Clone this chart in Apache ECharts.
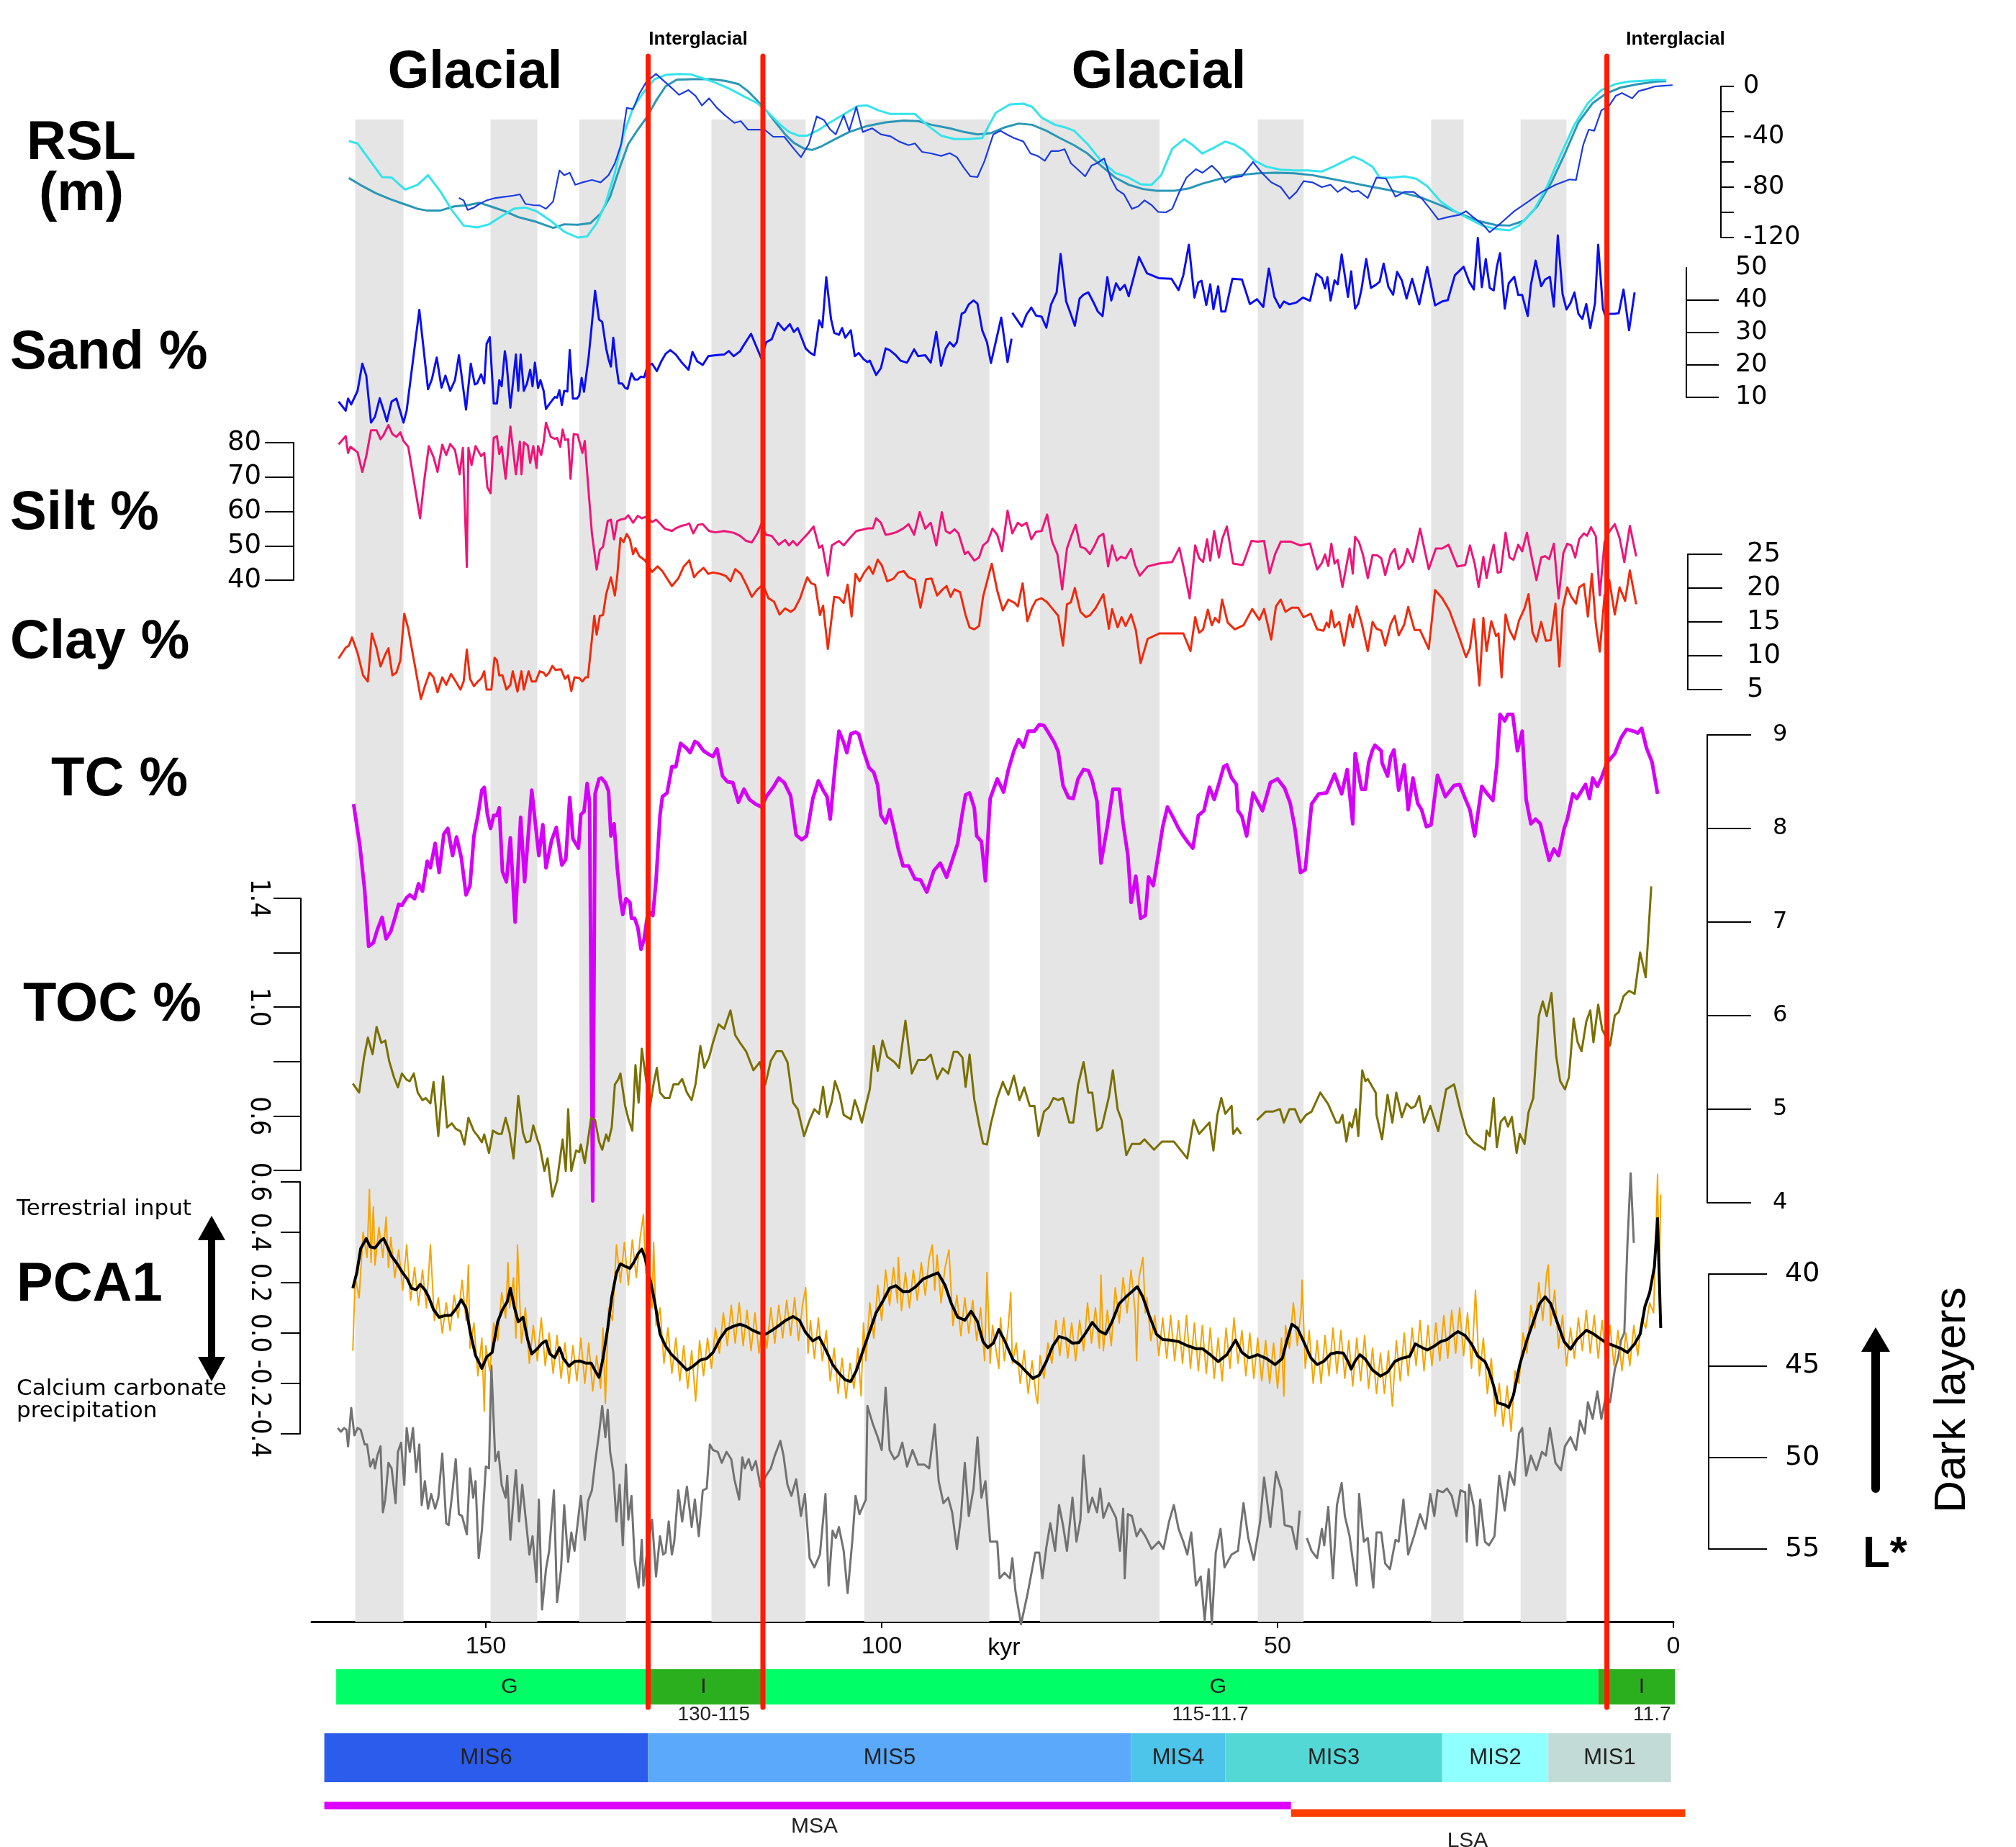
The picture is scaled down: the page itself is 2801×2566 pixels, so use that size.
<!DOCTYPE html>
<html>
<head>
<meta charset="utf-8">
<script src="https://cdn.jsdelivr.net/npm/echarts@6/dist/echarts.min.js"></script>
<style>
  html, body { margin: 0; padding: 0; background: #fff; }
  #chart { width: 2801px; height: 2566px; }
</style>
</head>
<body>
<div id="chart"></div>
<script>
// ---- data (age in kyr, value) ----
var rslCyan = [[167.3,-43.4],[166.2,-45.3],[163.1,-72.0],[161.9,-72.4],[160.2,-81.9],[158.6,-78.1],[157.3,-70.5],[155.7,-83.8],[154.2,-99.1],[152.8,-110.5],[151.1,-112.0],[149.6,-109.5],[148.2,-103.8],[146.5,-97.2],[145.0,-96.2],[143.6,-99.1],[141.8,-106.7],[140.1,-115.3],[138.4,-120.0],[137.2,-119.1],[136.0,-108.6],[134.9,-93.3],[133.7,-68.6],[132.6,-38.1],[131.4,-17.1],[130.2,-5.7],[128.7,5.7],[127.3,9.1],[125.6,9.9],[124.1,9.5],[122.7,6.7],[121.0,2.9],[119.2,-1.9],[117.5,-7.6],[115.7,-13.3],[114.3,-21.0],[112.8,-30.5],[111.7,-36.2],[110.5,-39.1],[109.4,-39.1],[107.9,-34.3],[106.5,-28.6],[104.7,-21.9],[103.0,-15.6],[101.8,-15.2],[100.4,-19.1],[98.9,-21.9],[97.2,-21.9],[95.8,-21.9],[94.3,-30.5],[92.5,-39.1],[90.8,-41.9],[89.1,-41.9],[87.3,-41.0],[85.6,-21.0],[83.8,-14.3],[82.1,-13.7],[81.0,-16.2],[79.8,-24.8],[78.1,-30.5],[76.9,-32.4],[75.7,-35.2],[74.0,-45.7],[72.3,-59.1],[70.5,-68.6],[68.8,-72.4],[67.3,-77.7],[65.9,-78.1],[64.7,-70.5],[63.3,-49.5],[61.8,-41.9],[60.7,-46.7],[59.5,-53.3],[58.0,-48.6],[56.6,-43.8],[55.4,-46.3],[54.3,-50.5],[52.9,-59.1],[51.4,-63.8],[49.6,-66.1],[47.9,-66.7],[46.2,-66.7],[44.4,-67.6],[42.7,-62.9],[41.5,-59.1],[40.4,-55.8],[39.2,-59.1],[38.0,-63.8],[37.1,-72.4],[35.5,-72.4],[34.0,-71.4],[32.5,-73.3],[31.1,-79.1],[29.4,-91.4],[27.6,-99.1],[25.9,-104.8],[24.1,-110.5],[22.4,-113.3],[20.7,-114.3],[19.5,-110.5],[17.7,-99.1],[16.0,-80.0],[14.3,-55.2],[12.5,-30.5],[10.8,-13.3],[9.1,-2.9],[7.3,1.9],[5.6,3.8],[3.8,4.4],[2.1,5.1],[0.9,4.8]];

var rslTeal = [[167.3,-72.8],[165.6,-79.1],[163.9,-84.8],[162.1,-89.5],[160.4,-93.3],[158.6,-97.2],[157.5,-98.5],[155.7,-98.5],[154.0,-95.3],[152.3,-94.3],[150.8,-92.4],[149.4,-95.3],[147.6,-99.1],[145.9,-103.8],[143.6,-107.6],[141.5,-112.4],[140.1,-109.5],[138.4,-109.9],[136.8,-108.6],[135.5,-101.0],[134.3,-87.6],[133.1,-64.8],[132.0,-45.7],[130.8,-34.3],[129.7,-24.8],[128.5,-11.4],[127.3,0],[125.9,5.3],[123.9,5.7],[121.5,5.7],[119.8,4.4],[118.1,1.9],[116.9,-3.8],[115.7,-11.4],[114.6,-19.1],[113.4,-28.6],[112.2,-38.1],[111.1,-44.8],[109.9,-49.1],[108.8,-50.5],[107.6,-47.6],[105.9,-41.9],[104.1,-36.2],[101.8,-31.4],[99.5,-28.6],[97.2,-27.2],[95.4,-27.6],[93.7,-30.5],[91.4,-33.3],[89.6,-36.2],[87.9,-38.1],[86.2,-37.1],[84.4,-32.4],[82.7,-29.5],[81.0,-30.5],[79.2,-35.2],[77.5,-41.0],[75.7,-46.7],[74.0,-53.3],[72.3,-62.9],[70.5,-72.4],[68.8,-78.1],[67.0,-81.5],[65.3,-82.9],[63.0,-82.9],[61.2,-81.0],[59.5,-77.2],[57.2,-73.3],[54.9,-70.5],[52.5,-69.0],[50.2,-68.6],[47.9,-69.0],[45.6,-70.5],[43.3,-73.3],[40.9,-76.2],[38.6,-79.1],[36.3,-81.9],[34.0,-84.8],[31.7,-88.6],[29.4,-94.3],[27.0,-101.0],[24.7,-106.7],[22.4,-110.1],[20.7,-110.5],[18.9,-106.7],[17.2,-95.3],[15.4,-76.2],[13.7,-53.3],[12.0,-28.6],[10.2,-13.3],[8.5,-5.7],[6.7,-1.0],[4.4,1.9],[2.1,3.8],[0.9,4.2]];

var rslBlue = [[153.4,-88.6],[152.8,-90.5],[152.3,-98.1],[151.5,-96.2],[150.8,-93.3],[149.9,-90.5],[148.8,-88.6],[147.6,-87.6],[146.5,-86.7],[145.7,-85.7],[145.0,-93.3],[144.0,-94.3],[143.2,-94.5],[142.4,-97.2],[141.5,-91.4],[140.7,-66.7],[140.1,-70.5],[139.4,-68.6],[138.7,-78.1],[137.8,-76.2],[136.6,-74.3],[135.5,-76.2],[134.5,-70.5],[133.7,-61.0],[132.9,-45.7],[132.2,-17.1],[131.4,-18.1],[130.6,-5.7],[129.7,3.8],[128.5,9.9],[127.6,4.8],[126.4,-1.9],[125.6,-6.7],[124.4,-2.9],[123.5,-7.6],[122.7,-15.2],[121.8,-9.5],[120.8,-17.1],[119.8,-22.9],[118.6,-29.0],[117.8,-27.6],[116.9,-34.3],[116.0,-34.3],[114.8,-34.3],[113.7,-40.0],[112.3,-40.0],[111.1,-49.5],[110.2,-56.2],[109.2,-45.7],[108.2,-23.8],[107.3,-26.7],[106.5,-34.3],[105.8,-38.1],[104.8,-22.9],[104.1,-35.2],[103.2,-16.2],[102.4,-36.2],[101.2,-33.3],[100.1,-38.1],[98.9,-39.6],[97.8,-43.8],[96.6,-46.7],[95.8,-45.3],[94.9,-52.0],[93.7,-53.3],[92.5,-55.2],[91.4,-53.0],[90.5,-56.2],[89.6,-64.8],[88.8,-71.4],[87.9,-72.0],[87.0,-59.1],[85.9,-38.1],[85.0,-35.2],[84.2,-38.1],[83.3,-41.0],[82.1,-43.8],[81.2,-53.3],[80.3,-55.2],[79.4,-59.1],[78.6,-51.4],[77.7,-51.4],[76.9,-49.9],[76.1,-61.0],[75.1,-66.7],[74.3,-71.4],[73.5,-62.9],[72.8,-61.0],[71.9,-57.2],[71.1,-72.4],[70.3,-81.9],[69.4,-85.7],[68.4,-97.2],[67.6,-95.3],[66.8,-90.5],[65.9,-94.3],[65.1,-99.6],[64.1,-100.0],[63.3,-97.2],[62.4,-83.8],[61.5,-72.4],[60.3,-65.7],[59.5,-68.6],[58.3,-62.9],[57.4,-68.6],[56.6,-76.2],[55.7,-72.4],[54.5,-71.4],[53.1,-60.0],[52.0,-68.6],[50.8,-76.2],[49.6,-80.0],[48.5,-89.2],[47.6,-83.8],[46.7,-75.2],[45.6,-76.2],[44.4,-80.0],[43.3,-78.1],[42.4,-83.8],[41.5,-80.0],[40.6,-83.8],[39.8,-82.9],[38.6,-88.6],[37.5,-72.4],[36.3,-73.3],[35.1,-87.6],[34.0,-83.8],[32.8,-83.8],[31.7,-89.5],[30.5,-99.1],[29.7,-105.7],[28.5,-103.8],[27.0,-101.9],[26.2,-99.1],[25.3,-103.8],[24.1,-109.5],[23.2,-115.8],[21.8,-108.6],[20.1,-99.1],[18.3,-91.4],[16.6,-83.8],[14.9,-78.1],[13.1,-73.9],[12.3,-74.3],[11.4,-46.7],[10.7,-34.3],[10.0,-35.2],[9.1,-19.1],[8.1,-15.2],[7.3,-7.6],[6.5,-5.3],[5.2,-9.5],[4.4,-3.8],[3.3,-1.9],[2.3,0],[1.5,0.4],[0.1,1.0]];

var sand = [[168.6,8.7],[167.7,5.9],[167.4,9.6],[167.0,7.8],[166.2,12.0],[165.6,20.4],[165.1,16.7],[164.5,2.2],[164.0,4.0],[163.4,9.7],[162.9,5.9],[162.5,2.6],[161.9,8.7],[161.3,9.6],[160.9,6.4],[160.4,2.2],[160.0,5.9],[158.4,37.0],[157.3,12.5],[156.8,15.7],[156.2,22.3],[155.6,13.0],[155.1,16.7],[154.5,12.0],[153.9,15.3],[153.4,23.0],[152.5,6.2],[151.9,20.4],[151.4,14.0],[151.1,14.3],[150.6,17.1],[150.2,14.3],[149.9,26.5],[149.5,28.6],[149.0,8.1],[148.6,8.1],[148.3,15.3],[148.0,13.4],[147.6,24.2],[147.4,21.3],[146.9,6.8],[146.2,23.2],[145.9,12.0],[145.6,23.2],[145.2,12.0],[144.8,14.3],[144.4,18.5],[144.1,13.4],[143.8,20.7],[143.4,12.9],[143.1,15.3],[142.7,12.0],[142.4,6.4],[141.9,8.2],[141.3,10.1],[141.0,9.9],[140.7,12.2],[140.4,7.6],[140.1,12.0],[139.7,11.8],[139.4,24.6],[139.0,9.6],[138.5,9.6],[138.2,10.6],[137.9,16.0],[137.6,11.7],[137.0,22.7],[136.2,42.9],[135.7,34.0],[135.3,33.3],[134.8,25.1],[134.5,21.8],[134.2,19.5],[133.9,28.4],[133.5,19.5],[133.2,14.3],[132.8,14.3],[132.4,12.9],[132.1,12.6],[131.6,17.4],[131.2,15.5],[130.8,15.5],[130.4,16.4],[130.0,16.2],[129.6,19.5],[129.0,20.4],[128.4,18.1],[127.8,21.3],[127.3,23.4],[126.7,24.6],[126.0,23.2],[125.3,20.9],[124.4,18.5],[123.9,24.0],[123.3,21.1],[122.6,20.0],[121.9,22.7],[121.0,23.0],[119.9,23.2],[119.3,24.3],[118.7,22.7],[117.9,24.2],[117.4,26.2],[116.5,29.6],[115.2,22.0],[114.6,27.0],[113.9,27.9],[113.1,33.0],[112.3,30.7],[111.6,32.6],[111.1,30.2],[110.6,31.4],[109.6,25.1],[109.0,23.7],[108.5,23.0],[107.9,33.8],[107.5,31.6],[107.0,47.1],[106.4,34.2],[106.0,29.9],[105.4,29.3],[105.0,31.4],[104.6,28.4],[103.9,30.7],[103.4,22.7],[102.9,23.7],[102.3,21.8],[101.8,20.9],[101.5,21.3],[100.7,16.9],[100.1,19.0],[99.5,25.1],[99.0,24.6],[98.3,23.2],[97.6,21.3],[96.8,20.7],[95.9,24.8],[95.4,22.7],[94.5,23.0],[93.8,20.7],[93.1,30.2],[92.5,19.7],[91.9,25.1],[91.4,27.0],[90.9,25.7],[90.5,27.1],[89.9,35.8],[89.5,36.3],[89.0,38.7],[88.4,39.9],[87.9,38.9],[87.3,30.7],[86.7,27.0],[86.2,20.6],[84.9,34.6],[84.1,20.9],[83.6,28.1],[83.55,'-'],[83.5,36.1],[82.3,31.8],[81.7,35.6],[81.1,37.7],[80.5,35.2],[79.8,34.9],[79.2,31.5],[78.6,38.7],[77.9,42.4],[77.4,54.3],[76.7,39.6],[76.2,36.3],[75.6,32.1],[75.0,40.5],[74.5,41.7],[73.9,42.4],[73.2,39.1],[72.7,36.5],[72.1,35.1],[71.5,47.1],[71.0,39.9],[70.4,45.2],[69.9,43.1],[69.3,44.7],[68.8,41.2],[67.5,53.3],[66.5,48.3],[65.0,46.8],[63.4,46.6],[62.5,43.1],[61.9,47.7],[61.2,57.1],[60.5,40.8],[60.0,45.5],[59.6,46.0],[59.0,38.5],[58.5,44.9],[58.1,37.2],[57.5,44.3],[57.1,36.5],[56.6,36.5],[55.7,46.6],[54.5,46.4],[53.5,38.8],[52.6,40.3],[51.8,37.9],[51.1,49.8],[50.4,41.0],[49.7,37.7],[49.2,39.6],[48.5,38.7],[47.6,39.3],[46.8,40.8],[45.9,39.8],[45.1,48.2],[44.4,46.8],[44.0,43.6],[43.7,47.1],[43.3,39.9],[42.8,46.1],[42.4,44.9],[41.9,54.1],[41.1,41.0],[40.7,48.9],[40.2,37.4],[39.8,38.9],[39.4,43.3],[38.8,52.7],[38.2,43.8],[37.6,44.7],[37.1,45.7],[36.6,51.3],[36.0,44.1],[35.4,41.7],[34.9,48.7],[34.3,46.1],[33.7,40.5],[33.0,46.6],[32.1,38.7],[31.1,50.3],[30.1,38.4],[29.2,39.6],[28.5,40.0],[27.6,47.7],[26.5,50.3],[25.8,45.7],[25.2,43.3],[24.7,59.2],[24.2,44.0],[23.7,52.7],[23.2,43.8],[22.7,43.0],[22.3,50.3],[21.9,54.5],[21.3,37.4],[20.8,45.2],[20.1,47.2],[19.6,41.6],[19.1,41.6],[18.4,35.1],[18.0,44.7],[17.4,52.2],[16.7,44.3],[16.2,46.4],[15.6,47.2],[15.1,38.0],[14.6,60.0],[14.0,41.9],[13.5,37.1],[13.0,39.1],[12.5,42.4],[12.0,35.8],[11.5,34.2],[11.0,38.8],[10.5,31.4],[9.9,39.1],[9.5,57.1],[8.9,37.4],[8.5,34.4],[8.1,35.8],[7.4,35.8],[6.9,36.0],[6.3,43.3],[5.6,30.7],[4.9,42.4]];

var silt = [[168.6,79.5],[167.7,81.9],[167.4,77.0],[167.1,78.8],[166.2,77.2],[165.6,71.5],[165.1,76.1],[164.5,83.6],[163.8,83.6],[163.3,81.0],[162.9,82.3],[162.3,85.1],[161.8,82.5],[161.3,81.7],[160.8,83.0],[160.4,80.5],[159.8,78.8],[159.0,67.7],[158.3,58.0],[157.8,68.6],[157.2,79.0],[156.6,75.8],[156.1,71.5],[155.5,79.4],[155.0,76.4],[154.5,79.6],[153.9,77.9],[153.3,70.8],[152.9,78.5],[152.4,43.8],[152.2,78.5],[151.8,73.5],[151.3,79.0],[150.6,76.1],[150.2,77.0],[149.8,67.0],[149.4,65.3],[149.0,81.4],[148.6,81.9],[148.3,76.7],[148.0,78.8],[147.5,69.5],[146.9,84.7],[146.2,70.8],[145.7,80.3],[145.5,70.8],[145.2,80.1],[144.7,79.2],[144.4,74.1],[144.0,79.0],[143.6,72.6],[143.4,79.0],[143.0,76.4],[142.7,80.1],[142.4,85.8],[141.8,81.7],[141.3,81.1],[141.0,81.4],[140.6,78.8],[140.3,83.8],[140.0,80.8],[139.6,81.0],[139.3,69.5],[138.9,82.5],[138.4,82.3],[137.8,77.0],[137.5,80.5],[137.3,74.1],[136.6,53.6],[136.0,43.1],[135.6,48.8],[135.2,49.7],[134.6,57.2],[134.2,57.6],[133.8,51.9],[133.4,57.2],[133.0,57.6],[132.4,57.9],[132.0,58.9],[131.4,56.7],[130.8,58.7],[130.3,58.0],[129.7,58.5],[129.0,56.9],[128.5,57.6],[128.0,56.5],[127.4,55.0],[126.5,54.3],[126.0,55.1],[125.3,55.8],[124.7,56.1],[124.3,56.5],[123.8,53.6],[123.2,56.1],[122.6,56.3],[121.8,54.3],[121.0,53.9],[119.9,54.3],[118.7,53.8],[117.9,52.9],[117.1,51.4],[116.4,51.0],[115.7,53.6],[115.2,56.3],[114.6,53.2],[113.9,52.9],[113.0,50.3],[112.2,51.7],[111.7,50.1],[111.2,51.4],[110.7,50.1],[110.0,51.9],[109.3,53.6],[108.6,55.6],[107.9,49.4],[107.5,50.1],[106.8,41.3],[106.3,50.1],[105.4,51.4],[104.8,50.1],[104.0,52.3],[103.2,54.3],[102.4,54.7],[101.7,55.1],[101.1,55.1],[100.7,58.0],[100.1,56.7],[99.5,53.2],[99.0,53.4],[98.2,53.9],[97.3,55.0],[96.6,56.3],[95.9,53.2],[95.2,59.8],[94.5,55.0],[93.8,56.7],[93.1,50.1],[92.4,59.8],[91.9,54.3],[91.4,53.6],[90.8,54.8],[90.3,53.6],[89.5,47.6],[89.1,48.3],[88.3,45.7],[87.7,46.6],[87.2,50.1],[86.6,51.3],[86.0,55.0],[85.4,53.2],[84.8,48.4],[84.1,60.2],[83.5,53.6],[82.8,56.7],[82.3,55.8],[81.7,56.7],[81.1,51.9],[80.5,54.1],[79.8,54.3],[79.1,59.1],[78.5,51.4],[77.8,47.5],[77.2,37.3],[76.6,49.2],[76.0,53.2],[75.5,56.1],[74.9,49.7],[74.3,49.2],[73.7,47.6],[73.1,50.1],[72.6,52.6],[72.0,53.5],[71.4,44.0],[70.9,50.1],[70.3,45.7],[69.8,46.8],[69.2,46.3],[68.5,49.1],[68.0,44.4],[67.4,41.3],[66.4,44.0],[65.0,44.8],[63.3,45.3],[62.4,49.4],[61.9,44.1],[61.1,34.7],[60.4,50.1],[59.9,46.4],[59.4,45.3],[58.9,51.9],[58.5,45.7],[58.0,54.3],[57.4,46.6],[57.0,51.9],[56.4,55.6],[55.6,44.8],[54.4,44.4],[53.3,51.4],[52.5,51.2],[51.7,51.4],[51.0,42.0],[50.3,47.6],[49.6,51.2],[48.3,51.2],[47.1,50.1],[45.9,50.7],[45.0,43.1],[44.4,45.0],[44.0,47.5],[43.6,44.1],[43.2,50.6],[42.8,44.8],[42.4,45.9],[41.8,38.0],[40.9,49.2],[40.5,41.9],[40.2,52.6],[39.7,51.0],[39.2,47.3],[38.6,40.6],[38.0,47.3],[37.4,47.2],[36.9,46.4],[36.4,41.5],[35.7,47.5],[35.2,49.1],[34.7,43.2],[34.1,44.8],[33.6,49.1],[32.9,45.3],[32.0,55.0],[30.9,43.2],[30.0,49.2],[29.2,49.2],[28.4,50.3],[27.3,44.0],[26.3,44.4],[25.7,50.1],[25.1,44.8],[24.6,38.0],[24.0,46.8],[23.6,40.6],[23.0,47.6],[22.7,50.3],[22.2,42.2],[21.8,42.4],[21.2,53.8],[20.7,46.6],[20.2,45.9],[19.6,50.3],[19.1,48.4],[18.5,53.8],[17.9,46.6],[17.3,40.0],[16.7,46.6],[16.2,47.0],[15.7,46.1],[15.1,50.6],[14.5,34.7],[13.9,47.9],[13.4,50.6],[12.9,50.1],[12.4,46.6],[11.9,51.9],[11.3,53.6],[10.9,52.9],[10.4,55.4],[9.8,52.8],[9.3,35.6],[8.7,51.0],[8.1,54.1],[7.4,56.3],[6.8,52.3],[6.2,45.3],[5.5,55.8],[4.7,46.9]];

var clay = [[168.6,9.6],[167.7,11.2],[167.3,11.5],[166.9,12.7],[166.2,10.4],[165.5,7.1],[164.9,6.2],[164.4,13.3],[163.8,11.1],[163.3,8.4],[162.7,10.2],[162.3,11.1],[161.8,7.1],[161.3,7.5],[160.8,9.3],[160.3,16.2],[159.8,14.0],[159.0,8.8],[158.2,3.6],[157.7,5.5],[157.1,7.5],[156.6,6.8],[156.1,4.6],[155.5,6.8],[155.0,5.7],[154.4,7.3],[153.8,6.2],[153.2,5.0],[152.8,6.2],[152.4,10.9],[152.0,6.6],[151.5,5.5],[151.0,6.2],[150.6,6.6],[150.2,7.7],[149.9,5.0],[149.3,5.0],[148.9,9.7],[148.6,9.3],[148.3,7.1],[147.9,7.1],[147.4,5.0],[146.9,5.7],[146.6,7.7],[146.0,4.7],[145.5,7.7],[145.2,5.0],[144.6,7.7],[144.2,6.2],[143.7,6.2],[143.2,7.7],[142.7,7.5],[142.4,7.0],[142.0,7.5],[141.6,8.5],[141.2,7.9],[140.5,8.0],[140.0,6.6],[139.6,7.1],[139.2,4.8],[138.8,6.8],[138.2,6.7],[137.8,6.2],[137.4,6.8],[137.1,6.8],[136.3,15.9],[136.0,13.1],[135.6,15.9],[135.2,16.0],[134.8,19.1],[134.2,21.6],[133.7,18.9],[133.4,21.8],[133.0,27.4],[132.6,26.8],[132.2,28.0],[131.8,27.2],[131.4,25.0],[131.1,25.9],[130.6,24.7],[129.9,24.1],[129.0,22.4],[128.3,23.2],[127.7,22.5],[127.1,21.4],[126.5,20.3],[125.7,21.4],[125.0,23.2],[124.3,24.1],[123.7,21.6],[123.2,22.3],[122.5,23.0],[121.9,22.1],[121.3,22.3],[120.4,22.1],[119.7,21.8],[119.1,21.0],[118.5,22.8],[117.8,22.1],[117.1,20.5],[116.4,18.7],[115.7,19.8],[115.0,20.5],[114.3,18.5],[113.6,18.0],[112.9,16.1],[112.2,17.0],[111.5,16.5],[111.0,16.9],[110.3,18.5],[109.4,21.6],[108.9,20.7],[108.4,20.5],[107.8,16.0],[107.4,17.4],[106.8,11.0],[106.0,18.7],[105.4,18.6],[104.8,17.8],[104.3,20.5],[103.8,15.8],[103.3,22.1],[102.8,21.0],[102.2,22.3],[101.6,23.2],[101.1,22.1],[100.5,24.2],[100.0,23.4],[99.3,21.0],[98.5,21.4],[97.9,22.3],[97.2,22.5],[96.6,21.6],[95.8,21.2],[95.1,17.1],[94.4,21.3],[93.7,21.4],[93.0,18.9],[92.3,19.8],[91.8,20.3],[91.3,18.7],[90.8,19.8],[90.1,19.4],[89.4,16.0],[88.9,14.2],[88.3,13.9],[87.7,14.4],[87.2,18.7],[86.6,21.4],[86.1,23.6],[85.4,19.6],[84.7,16.7],[84.0,18.3],[83.2,17.8],[82.8,17.3],[82.2,20.7],[81.6,15.1],[81.0,17.1],[80.5,18.2],[79.8,18.5],[79.1,17.9],[78.4,16.9],[77.7,15.9],[77.1,11.5],[76.6,17.6],[76.1,17.9],[75.6,20.0],[74.9,16.5],[74.2,15.7],[73.7,16.0],[73.0,17.0],[72.0,19.1],[71.3,14.0],[70.9,16.9],[70.2,14.2],[69.7,15.7],[69.2,14.4],[68.5,16.1],[67.9,13.8],[67.3,8.9],[66.4,12.5],[64.9,13.3],[61.9,13.3],[61.0,10.7],[60.4,15.7],[59.9,13.4],[59.4,13.9],[58.8,16.8],[58.3,14.5],[57.9,15.6],[57.4,14.9],[57.0,18.3],[56.3,14.9],[55.4,13.9],[54.3,14.5],[53.2,16.9],[52.3,15.3],[51.7,16.9],[50.8,12.4],[50.2,17.3],[49.6,18.3],[49.0,16.5],[48.2,17.1],[47.4,17.1],[46.7,15.7],[45.8,16.2],[45.0,13.9],[44.2,13.7],[43.8,14.9],[43.5,14.2],[43.2,16.7],[42.8,14.2],[42.2,15.0],[41.6,11.5],[40.9,16.1],[40.5,14.2],[40.0,17.3],[39.4,14.9],[38.6,10.7],[38.0,15.0],[37.5,14.0],[36.9,13.7],[36.4,11.5],[35.7,14.7],[35.2,15.9],[34.7,13.0],[34.0,14.6],[33.5,17.2],[32.7,13.8],[32.0,13.8],[30.9,11.0],[30.1,19.7],[29.2,18.5],[28.3,16.7],[27.1,12.9],[26.2,9.8],[25.7,11.1],[25.2,15.4],[24.5,5.6],[24.0,15.6],[23.6,10.7],[23.0,15.1],[22.4,12.9],[22.1,13.3],[21.7,6.8],[21.2,16.1],[20.7,13.8],[20.1,12.4],[19.5,15.2],[18.8,17.0],[18.3,19.1],[17.8,13.5],[17.3,12.1],[16.7,15.0],[16.1,12.2],[15.5,12.3],[14.9,17.7],[14.4,8.4],[14.0,16.9],[13.4,20.1],[12.9,18.7],[12.3,17.7],[11.9,20.1],[11.3,20.6],[10.8,15.8],[10.3,22.1],[9.8,14.7],[9.3,10.6],[8.7,18.9],[8.1,21.2],[7.4,16.1],[6.8,20.1],[6.1,18.1],[5.5,22.6],[4.7,17.6]];

var tc = [[166.7,8.26],[165.9,7.81],[165.3,7.34],[164.8,6.74],[164.2,6.78],[163.7,6.92],[163.1,7.05],[162.6,6.82],[162.0,6.90],[161.5,7.04],[161.0,7.19],[160.6,7.18],[160.0,7.26],[159.6,7.29],[159.0,7.25],[158.5,7.41],[158.0,7.33],[157.4,7.65],[157.0,7.58],[156.4,7.84],[155.9,7.53],[155.3,7.94],[154.8,8.00],[154.2,7.71],[153.7,7.91],[153.1,7.69],[152.5,7.29],[152.0,7.39],[151.5,7.92],[151.0,8.14],[150.5,8.41],[150.2,8.44],[149.8,8.15],[149.4,8.00],[149.0,8.14],[148.6,8.14],[148.3,8.22],[147.9,7.54],[147.4,7.43],[146.9,7.90],[146.3,7.00],[145.6,8.12],[145.1,7.43],[144.2,8.41],[143.3,7.71],[142.8,8.04],[142.4,7.58],[141.7,7.87],[141.1,8.01],[140.4,7.61],[139.9,7.67],[139.4,8.33],[139.0,7.89],[138.3,7.79],[138.0,8.15],[137.6,8.18],[137.2,8.48],[136.9,8.28],[136.5,4.02],[136.2,8.37],[135.7,8.53],[135.4,8.54],[134.9,8.49],[134.5,8.40],[134.2,7.92],[133.8,8.05],[133.4,7.58],[133.0,7.24],[132.7,7.08],[132.3,7.25],[131.8,7.21],[131.6,7.04],[131.2,7.04],[130.8,6.94],[130.4,6.71],[130.0,6.82],[129.5,7.12],[128.9,7.07],[128.5,7.44],[128.0,8.14],[127.7,8.34],[127.1,8.38],[126.5,8.66],[126.0,8.66],[125.4,8.91],[124.7,8.86],[124.2,8.81],[123.6,8.93],[123.2,8.91],[122.5,8.83],[121.8,8.79],[121.3,8.77],[120.8,8.85],[120.1,8.56],[119.5,8.50],[118.8,8.49],[118.1,8.28],[117.4,8.42],[116.7,8.31],[115.9,8.26],[115.2,8.23],[114.5,8.35],[113.7,8.44],[113.0,8.54],[112.3,8.49],[111.5,8.35],[110.8,7.93],[110.1,7.88],[109.5,7.92],[108.7,8.32],[108.0,8.51],[107.4,8.41],[106.9,8.34],[106.5,8.10],[105.9,8.65],[105.4,9.04],[104.8,8.92],[104.4,8.81],[103.9,9.01],[103.3,9.03],[102.9,9.01],[102.3,8.83],[101.6,8.65],[101.0,8.60],[100.5,8.46],[100.1,8.14],[99.5,8.06],[99.0,8.20],[98.4,7.98],[97.9,7.78],[97.3,7.60],[96.6,7.60],[95.8,7.46],[95.1,7.45],[94.3,7.32],[93.4,7.55],[92.6,7.63],[91.8,7.48],[90.9,7.71],[90.4,7.84],[89.8,8.17],[89.4,8.36],[88.9,8.38],[88.3,8.22],[88.0,7.92],[87.4,7.86],[86.9,7.44],[86.3,8.32],[85.4,8.53],[84.6,8.39],[84.0,8.63],[83.3,8.83],[82.7,8.95],[82.1,8.87],[81.5,9.04],[80.7,9.04],[80.1,9.11],[79.5,9.10],[78.9,9.02],[78.2,8.92],[77.7,8.82],[77.1,8.46],[76.4,8.33],[75.8,8.32],[75.2,8.53],[74.5,8.63],[73.9,8.62],[73.4,8.51],[72.8,8.29],[72.3,7.63],[71.5,8.02],[70.8,8.42],[70.0,8.42],[69.5,8.05],[68.9,7.71],[68.5,7.21],[67.9,7.49],[67.3,7.04],[66.7,7.07],[66.3,7.48],[65.7,7.39],[65.0,7.75],[64.5,8.02],[63.9,8.23],[63.2,8.12],[62.5,8.00],[61.9,7.92],[61.3,7.85],[60.7,7.79],[60.0,8.14],[59.3,8.19],[58.6,8.44],[58.0,8.31],[57.4,8.48],[56.8,8.66],[56.4,8.68],[55.8,8.54],[55.2,8.47],[55.0,8.19],[54.5,8.13],[53.9,7.92],[53.1,8.38],[51.9,8.19],[50.9,8.49],[50.0,8.53],[49.1,8.43],[48.4,8.27],[47.8,8.00],[47.1,7.53],[46.5,7.56],[45.7,8.26],[44.8,8.37],[43.8,8.38],[42.8,8.58],[41.9,8.37],[41.2,8.63],[40.5,8.05],[40.2,8.80],[39.8,8.61],[39.4,8.42],[38.9,8.42],[38.5,8.70],[38.0,8.84],[37.7,8.89],[36.9,8.83],[36.8,8.70],[36.1,8.56],[35.7,8.77],[35.3,8.84],[34.7,8.41],[34.0,8.68],[33.5,8.20],[32.9,8.54],[32.3,8.27],[31.8,8.20],[31.2,8.02],[30.6,8.04],[29.8,8.57],[28.8,8.34],[27.7,8.46],[27.0,8.47],[26.3,8.32],[25.7,8.20],[25.1,7.92],[24.2,8.45],[23.5,8.37],[22.8,8.30],[22.3,8.68],[21.9,9.22],[21.3,9.15],[20.9,9.22],[20.3,9.22],[19.7,8.83],[19.1,9.04],[18.6,8.31],[18.0,8.05],[17.4,8.10],[16.8,8.05],[16.2,7.83],[15.7,7.66],[15.1,7.78],[14.5,7.71],[13.8,8.00],[13.4,8.10],[12.7,8.37],[12.2,8.32],[11.1,8.47],[10.6,8.32],[10.2,8.54],[9.6,8.45],[9.1,8.54],[8.4,8.70],[7.4,8.80],[6.6,8.97],[5.9,9.06],[5.0,9.04],[4.5,9.02],[4.0,9.07],[3.4,8.86],[2.7,8.71],[2.0,8.37]];

var toc = [[166.8,0.719],[166.0,0.686],[165.4,0.812],[164.9,0.888],[164.3,0.827],[163.8,0.927],[163.2,0.869],[162.7,0.877],[162.2,0.801],[161.6,0.742],[161.1,0.705],[160.6,0.756],[160.0,0.733],[159.6,0.728],[159.1,0.756],[158.6,0.686],[158.0,0.658],[157.6,0.666],[157.0,0.646],[156.6,0.725],[156.0,0.526],[155.4,0.745],[154.9,0.558],[154.3,0.573],[153.8,0.553],[153.2,0.544],[152.7,0.495],[152.2,0.593],[151.5,0.544],[151.0,0.526],[150.5,0.503],[150.2,0.532],[149.6,0.464],[149.1,0.546],[148.4,0.534],[148.0,0.534],[147.5,0.593],[147.0,0.538],[146.5,0.444],[145.9,0.674],[145.3,0.538],[144.9,0.503],[144.4,0.508],[144.0,0.565],[143.5,0.514],[143.2,0.491],[142.6,0.398],[142.2,0.444],[141.6,0.304],[141.0,0.362],[140.3,0.514],[139.9,0.398],[139.6,0.625],[139.2,0.398],[138.6,0.473],[138.2,0.467],[138.0,0.495],[137.5,0.427],[136.7,0.593],[136.2,0.585],[135.7,0.506],[135.3,0.476],[134.8,0.532],[134.5,0.508],[134.1,0.558],[133.7,0.716],[133.3,0.733],[133.0,0.756],[132.4,0.637],[132.0,0.590],[131.5,0.546],[131.1,0.787],[130.7,0.649],[130.3,0.847],[129.8,0.742],[129.3,0.628],[128.8,0.719],[128.4,0.777],[128.0,0.686],[127.4,0.666],[126.8,0.666],[126.3,0.716],[125.7,0.716],[125.2,0.736],[124.6,0.686],[124.0,0.658],[123.5,0.719],[122.9,0.857],[122.4,0.777],[121.8,0.815],[121.3,0.871],[120.6,0.937],[119.9,0.920],[119.1,0.988],[118.5,0.897],[117.8,0.865],[117.1,0.836],[116.2,0.768],[115.4,0.798],[114.7,0.716],[114.0,0.803],[113.3,0.838],[112.6,0.838],[111.9,0.798],[111.2,0.649],[110.6,0.625],[109.8,0.526],[109.1,0.585],[108.5,0.625],[107.9,0.608],[107.4,0.707],[106.9,0.596],[106.3,0.654],[105.9,0.728],[105.3,0.678],[104.8,0.604],[103.9,0.588],[103.4,0.658],[103.0,0.625],[102.5,0.576],[102.0,0.639],[101.5,0.698],[101.0,0.857],[100.5,0.766],[99.9,0.877],[99.3,0.818],[98.4,0.798],[97.8,0.777],[97.0,0.950],[96.2,0.756],[95.4,0.806],[94.5,0.806],[93.8,0.826],[93.0,0.736],[92.3,0.775],[91.6,0.756],[90.9,0.836],[90.4,0.836],[89.8,0.815],[89.4,0.707],[88.9,0.826],[88.3,0.660],[87.7,0.569],[87.2,0.499],[86.7,0.495],[86.2,0.573],[85.4,0.666],[84.7,0.725],[84.0,0.678],[83.3,0.748],[82.6,0.658],[82.0,0.705],[81.3,0.637],[80.7,0.637],[80.2,0.526],[79.5,0.616],[78.9,0.631],[78.3,0.666],[77.7,0.658],[77.1,0.666],[76.3,0.576],[75.8,0.576],[75.2,0.713],[74.5,0.798],[73.9,0.686],[73.4,0.686],[72.8,0.546],[72.2,0.558],[71.3,0.670],[70.8,0.768],[70.2,0.625],[69.7,0.585],[69.1,0.456],[68.4,0.497],[67.4,0.497],[66.8,0.514],[65.6,0.476],[64.6,0.506],[63.1,0.506],[61.4,0.444],[60.6,0.585],[59.9,0.534],[58.6,0.576],[58.1,0.473],[57.6,0.604],[57.1,0.666],[56.6,0.608],[55.8,0.637],[55.6,0.534],[55.1,0.555],[54.6,0.534],[53.6,'-'],[52.6,0.585],[51.5,0.616],[50.6,0.616],[49.7,0.625],[49.2,0.576],[48.5,0.625],[47.8,0.625],[47.1,0.576],[46.4,0.604],[45.7,0.616],[44.6,0.686],[43.6,0.643],[42.6,0.576],[42.2,0.576],[41.8,0.604],[41.3,0.506],[40.9,0.576],[40.6,0.558],[40.1,0.625],[39.8,0.526],[39.3,0.768],[38.9,0.728],[38.6,0.736],[37.6,0.686],[37.5,0.604],[36.8,0.514],[36.1,0.678],[35.5,0.576],[35.0,0.686],[34.3,0.596],[33.7,0.646],[33.1,0.628],[32.6,0.637],[32.1,0.674],[31.5,0.576],[30.7,0.637],[29.7,0.544],[28.7,0.698],[27.7,0.716],[26.9,0.619],[26.1,0.534],[25.2,0.503],[23.8,0.476],[23.6,0.546],[23.2,0.526],[22.7,0.666],[22.3,0.485],[21.8,0.579],[21.3,0.596],[20.9,0.561],[20.4,0.596],[19.8,0.464],[19.4,0.534],[18.8,0.497],[18.3,0.614],[17.7,0.666],[17.0,0.967],[16.5,1.021],[16.0,0.967],[15.4,1.052],[14.8,0.818],[14.3,0.728],[13.7,0.698],[13.2,0.742],[12.6,0.958],[12.1,0.871],[11.6,0.838],[11.0,0.947],[10.5,0.988],[10.1,0.871],[9.5,1.009],[9.0,0.918],[8.0,0.859],[7.4,0.970],[6.9,0.982],[6.3,1.040],[5.6,1.060],[4.9,1.049],[4.2,1.201],[3.5,1.110],[2.8,1.444]];

var pcaRaw = [[166.8,-0.07],[166.5,0.22],[166.0,0.14],[165.5,0.40],[165.0,0.30],[164.7,0.57],[164.5,0.28],[164.2,0.50],[164.0,0.27],[163.5,0.42],[163.0,0.30],[162.6,0.46],[162.3,0.26],[162.0,0.38],[161.5,0.22],[161.0,0.33],[160.5,0.17],[160.0,0.35],[159.5,0.13],[159.0,0.26],[158.5,0.11],[158.0,0.25],[157.5,0.10],[157.0,0.35],[156.5,0.05],[156.0,0.14],[155.5,0.00],[155.0,0.12],[154.5,0.01],[154.0,0.15],[153.5,0.06],[153.0,0.21],[152.5,0.05],[152.2,0.27],[152.0,-0.06],[151.5,0.04],[151.0,-0.17],[150.5,-0.02],[150.2,-0.31],[150.0,-0.05],[149.5,-0.15],[149.0,0.04],[148.5,-0.03],[148.0,0.16],[147.5,0.06],[147.2,0.28],[147.0,0.10],[146.5,0.22],[146.2,-0.02],[146.0,0.35],[145.5,-0.04],[145.0,0.10],[144.5,-0.12],[144.0,0.03],[143.5,-0.11],[143.0,0.06],[142.5,-0.13],[142.0,0.00],[141.5,-0.16],[141.0,-0.01],[140.5,-0.18],[140.0,-0.04],[139.5,-0.20],[139.0,-0.05],[138.5,-0.19],[138.0,-0.02],[137.5,-0.20],[137.0,-0.04],[136.5,-0.23],[136.0,-0.09],[135.5,-0.22],[135.2,0.02],[134.9,-0.28],[134.5,0.10],[134.0,0.05],[133.5,0.35],[133.0,0.20],[132.5,0.36],[132.0,0.19],[131.5,0.37],[131.0,0.22],[130.5,0.38],[130.1,0.47],[129.8,0.24],[129.5,0.30],[129.0,0.10],[128.8,0.36],[128.5,0.03],[128.0,0.10],[127.5,-0.12],[127.0,0.02],[126.5,-0.16],[126.0,-0.02],[125.5,-0.19],[125.0,-0.05],[124.5,-0.22],[124.0,-0.07],[123.5,-0.27],[123.0,-0.03],[122.5,-0.17],[122.0,-0.02],[121.5,-0.14],[121.0,0.02],[120.5,-0.08],[120.0,0.08],[119.5,-0.05],[119.0,0.11],[118.5,-0.04],[118.0,0.12],[117.5,-0.05],[117.0,0.09],[116.5,-0.07],[116.0,0.08],[115.5,-0.08],[115.0,0.06],[114.5,-0.06],[114.0,0.10],[113.5,-0.04],[113.0,0.11],[112.5,-0.02],[112.0,0.13],[111.5,-0.01],[111.0,0.14],[110.5,-0.03],[110.0,0.11],[109.6,0.18],[109.3,-0.08],[109.0,0.05],[108.5,-0.10],[108.0,0.06],[107.5,-0.11],[107.0,0.01],[106.5,-0.19],[106.0,-0.06],[105.5,-0.24],[105.0,-0.10],[104.5,-0.26],[104.0,-0.12],[103.5,-0.22],[103.0,-0.06],[102.6,-0.25],[102.3,0.04],[102.0,-0.11],[101.5,0.12],[101.0,-0.02],[100.5,0.19],[100.0,0.05],[99.5,0.25],[99.0,0.11],[98.5,0.26],[98.0,0.12],[97.9,0.30],[97.5,0.09],[97.0,0.24],[96.5,0.10],[96.0,0.25],[95.5,0.13],[95.0,0.28],[94.5,0.15],[94.0,0.30],[93.6,0.35],[93.3,0.17],[93.0,0.31],[92.5,0.12],[92.0,0.26],[91.5,0.33],[91.0,0.03],[90.5,0.15],[90.0,-0.01],[89.5,0.14],[89.0,0.00],[88.5,0.13],[88.0,-0.03],[87.5,0.10],[87.0,-0.11],[86.7,0.24],[86.3,-0.12],[86.0,0.03],[85.5,-0.08],[85.2,-0.14],[85.0,0.06],[84.5,-0.11],[84.0,0.03],[83.7,0.16],[83.5,-0.12],[83.0,-0.04],[82.5,-0.20],[82.0,-0.07],[81.5,-0.24],[81.0,-0.11],[80.5,-0.25],[80.3,-0.28],[80.0,-0.09],[79.5,-0.18],[79.0,-0.04],[78.5,-0.12],[78.0,0.05],[77.5,-0.09],[77.0,0.06],[76.5,-0.10],[76.0,0.04],[75.5,-0.11],[75.0,0.05],[74.5,-0.07],[74.0,0.12],[73.5,-0.04],[73.0,0.10],[72.5,-0.06],[72.3,0.23],[72.0,-0.07],[71.5,0.09],[71.0,-0.05],[70.5,0.18],[70.0,0.04],[69.5,0.22],[69.0,0.08],[68.5,0.25],[68.0,0.09],[67.8,-0.11],[67.5,0.22],[67.0,0.30],[66.7,0.08],[66.5,0.14],[66.0,-0.03],[65.5,0.07],[65.0,-0.09],[64.5,0.06],[64.0,-0.10],[63.5,0.07],[63.0,-0.11],[62.5,0.05],[62.0,-0.12],[61.5,0.07],[61.0,-0.14],[60.5,0.04],[60.0,-0.15],[59.5,0.03],[59.0,-0.16],[58.5,0.02],[58.0,-0.18],[57.5,-0.02],[57.0,-0.19],[56.5,0.02],[56.0,-0.14],[55.5,0.06],[55.0,-0.12],[54.5,0.01],[54.0,-0.17],[53.5,0.00],[53.0,-0.18],[52.5,-0.02],[52.0,-0.19],[51.5,-0.03],[51.0,-0.20],[50.5,-0.04],[50.0,-0.22],[49.5,-0.02],[49.2,-0.25],[49.0,0.03],[48.5,-0.06],[48.0,0.12],[47.5,-0.05],[47.0,0.10],[46.9,0.21],[46.5,-0.14],[46.0,0.01],[45.5,-0.20],[45.0,-0.03],[44.5,-0.20],[44.0,-0.01],[43.5,-0.17],[43.0,0.02],[42.5,-0.16],[42.0,0.01],[41.5,-0.18],[41.0,-0.03],[40.5,-0.21],[40.0,-0.02],[39.5,-0.19],[39.0,-0.01],[38.5,-0.22],[38.0,-0.06],[37.5,-0.24],[37.0,-0.08],[36.5,-0.24],[36.0,-0.07],[35.5,-0.29],[35.0,-0.03],[34.5,-0.19],[34.0,0.00],[33.5,-0.17],[33.0,0.02],[32.5,-0.13],[32.0,0.05],[31.5,-0.15],[31.0,0.03],[30.5,-0.13],[30.0,0.04],[29.5,-0.11],[29.0,0.07],[28.5,-0.10],[28.0,0.09],[27.5,-0.08],[27.0,0.10],[26.5,-0.09],[26.0,0.08],[25.5,-0.14],[25.0,0.17],[24.5,-0.17],[24.0,-0.02],[23.5,-0.24],[23.0,-0.10],[22.5,-0.33],[22.0,-0.20],[21.5,-0.37],[21.0,-0.21],[20.5,-0.39],[20.0,-0.15],[19.5,-0.20],[19.0,0.00],[18.5,-0.08],[18.0,0.11],[17.5,0.02],[17.0,0.20],[16.5,0.05],[16.0,0.24],[15.8,0.27],[15.5,0.03],[15.0,0.17],[14.5,-0.06],[14.0,0.07],[13.5,-0.13],[13.0,0.02],[12.5,-0.10],[12.0,0.06],[11.5,-0.07],[11.0,0.09],[10.5,-0.08],[10.0,0.07],[9.5,-0.10],[9.0,0.05],[8.5,-0.12],[8.0,0.03],[7.5,-0.13],[7.0,0.01],[6.5,-0.15],[6.0,0.00],[5.5,-0.13],[5.0,0.03],[4.5,-0.09],[4.0,0.06],[3.5,0.02],[3.0,0.12],[2.5,0.08],[2.0,0.63],[1.8,0.20],[1.6,0.55]];

var pcaSmooth = [[166.8,0.178],[166.3,0.239],[165.8,0.336],[165.1,0.375],[164.6,0.342],[164.0,0.338],[163.3,0.366],[162.9,0.375],[162.5,0.348],[161.9,0.305],[161.2,0.275],[160.5,0.239],[159.9,0.214],[159.4,0.178],[158.8,0.172],[158.3,0.193],[157.7,0.172],[157.2,0.142],[156.6,0.093],[155.9,0.063],[155.2,0.069],[154.4,0.071],[153.7,0.099],[153.1,0.132],[152.5,0.099],[152.0,0.008],[151.3,-0.089],[150.5,-0.140],[149.9,-0.095],[149.2,-0.077],[148.5,0.045],[147.9,0.093],[147.3,0.124],[146.9,0.178],[146.4,0.103],[145.9,0.045],[145.3,0.063],[144.7,-0.028],[144.2,-0.083],[143.5,-0.062],[142.9,-0.040],[142.4,-0.031],[141.9,-0.083],[141.3,-0.098],[140.7,-0.058],[140.2,-0.101],[139.5,-0.131],[138.8,-0.113],[138.1,-0.111],[137.4,-0.119],[136.7,-0.119],[136.2,-0.149],[135.7,-0.176],[135.2,-0.101],[134.6,0.020],[134.1,0.142],[133.5,0.239],[133.0,0.275],[132.4,0.265],[131.8,0.257],[131.3,0.281],[130.7,0.318],[130.3,0.333],[129.9,0.299],[129.0,0.178],[128.5,0.093],[128.0,-0.004],[127.3,-0.052],[126.6,-0.083],[125.7,-0.111],[124.6,-0.147],[123.8,-0.131],[122.9,-0.107],[122.1,-0.101],[121.3,-0.077],[120.4,-0.022],[119.6,0.014],[118.8,0.026],[117.9,0.035],[117.1,0.026],[116.3,0.011],[115.4,-0.001],[114.6,-0.004],[113.7,0.014],[112.9,0.032],[112.1,0.051],[111.2,0.066],[110.4,0.051],[109.6,0.002],[108.7,-0.031],[107.9,-0.016],[107.1,-0.064],[106.2,-0.125],[105.4,-0.159],[104.6,-0.186],[103.9,-0.192],[103.2,-0.149],[102.3,-0.064],[101.5,0.008],[100.7,0.081],[99.8,0.130],[99.0,0.178],[98.2,0.188],[97.3,0.164],[96.5,0.166],[95.7,0.184],[94.8,0.214],[93.7,0.229],[92.9,0.239],[92.0,0.190],[91.2,0.117],[90.4,0.063],[89.5,0.051],[88.7,0.087],[87.9,0.045],[87.2,-0.034],[86.6,-0.058],[85.9,-0.040],[85.2,0.014],[84.5,-0.028],[83.4,-0.107],[82.6,-0.125],[81.7,-0.155],[80.9,-0.180],[80.1,-0.167],[79.2,-0.113],[78.4,-0.052],[77.6,-0.014],[76.7,-0.022],[75.9,-0.040],[75.1,-0.038],[74.2,0.002],[73.4,0.042],[72.5,0.008],[71.7,-0.004],[70.9,0.045],[70.0,0.117],[69.2,0.142],[68.4,0.164],[67.7,0.184],[67.0,0.142],[66.2,0.069],[65.3,-0.004],[64.5,-0.026],[63.6,-0.028],[62.5,-0.034],[61.4,-0.050],[60.3,-0.062],[59.5,-0.062],[58.6,-0.083],[57.5,-0.113],[56.4,-0.086],[55.3,-0.028],[54.5,-0.077],[53.6,-0.098],[52.5,-0.086],[51.4,-0.101],[50.3,-0.125],[49.4,-0.101],[48.9,-0.040],[48.2,0.035],[47.5,0.020],[46.7,-0.034],[45.8,-0.098],[45.0,-0.125],[44.2,-0.113],[43.3,-0.083],[42.5,-0.077],[41.7,-0.079],[41.1,-0.113],[40.7,-0.143],[40.2,-0.111],[39.6,-0.086],[38.9,-0.104],[38.0,-0.147],[37.0,-0.171],[36.1,-0.155],[35.2,-0.113],[34.4,-0.101],[33.3,-0.092],[32.6,-0.043],[31.9,-0.055],[31.1,-0.067],[30.2,-0.052],[29.4,-0.034],[28.6,-0.026],[27.7,-0.004],[27.2,0.006],[26.3,-0.010],[25.5,-0.043],[24.7,-0.092],[23.8,-0.113],[23.3,-0.149],[22.7,-0.210],[22.2,-0.277],[21.3,-0.285],[20.8,-0.295],[20.2,-0.246],[19.4,-0.125],[18.5,-0.028],[17.7,0.045],[16.9,0.117],[16.2,0.144],[15.5,0.117],[14.7,0.045],[13.8,-0.034],[13.0,-0.064],[12.2,-0.026],[11.0,0.011],[10.2,-0.001],[9.4,-0.019],[8.5,-0.038],[7.4,-0.052],[6.6,-0.062],[5.8,-0.077],[4.9,-0.043],[4.2,-0.004],[3.6,0.105],[3.0,0.160],[2.4,0.263],[2.0,0.455],[1.6,0.020]];

var lightness = [[168.7,48.4],[168.3,48.6],[167.9,48.4],[167.6,48.5],[167.4,49.4],[167.0,47.3],[166.6,48.8],[166.2,48.4],[165.8,48.5],[165.3,49.3],[165.0,49.3],[164.6,50.5],[164.2,50.1],[164.0,50.6],[163.7,49.9],[163.3,49.4],[163.0,53.0],[162.7,52.3],[162.3,50.3],[161.9,50.6],[161.4,52.5],[161.1,49.7],[160.7,49.2],[160.3,51.5],[160.0,48.4],[159.6,49.7],[159.2,48.4],[158.8,50.8],[158.4,49.3],[158.1,52.6],[157.7,51.3],[157.3,52.8],[156.9,52.0],[156.4,52.8],[156.0,52.2],[155.5,49.8],[155.0,53.6],[154.7,53.7],[154.2,51.8],[153.8,50.1],[153.4,53.1],[153.0,53.2],[152.4,54.2],[152.0,50.6],[151.6,52.2],[151.3,51.3],[150.9,55.5],[150.5,54.0],[150.0,50.5],[149.6,50.6],[149.3,45.0],[148.8,50.2],[148.4,49.7],[148.0,51.5],[147.5,52.2],[147.3,51.0],[146.9,54.5],[146.6,52.8],[146.2,50.7],[145.8,53.5],[145.4,51.5],[144.9,53.6],[144.5,55.3],[144.1,54.3],[143.6,56.8],[143.3,52.3],[142.9,58.3],[142.4,56.1],[142.0,55.1],[141.4,51.8],[141.0,57.9],[140.5,56.1],[140.1,52.6],[139.6,55.7],[139.2,54.1],[138.8,55.1],[138.4,53.6],[138.0,52.1],[137.5,54.5],[137.1,52.4],[136.6,51.8],[136.2,50.3],[135.7,48.7],[135.3,47.2],[134.9,48.9],[134.6,47.4],[134.3,49.7],[133.9,50.8],[133.5,53.5],[133.1,51.5],[132.7,54.8],[132.3,50.4],[132.0,53.4],[131.6,52.1],[131.2,55.6],[130.7,57.1],[130.3,54.5],[130.1,57.0],[129.6,55.0],[129.0,53.4],[128.5,56.5],[128.0,54.3],[127.6,55.3],[127.3,55.2],[126.9,53.5],[126.5,55.3],[126.2,54.6],[125.7,51.8],[125.2,53.5],[124.6,51.6],[124.0,53.8],[123.6,52.3],[123.1,54.3],[122.6,51.8],[122.1,51.7],[121.7,49.3],[121.3,49.6],[120.7,49.7],[120.2,50.3],[119.6,49.7],[119.0,50.1],[118.6,51.2],[118.0,52.3],[117.6,50.0],[117.3,50.6],[116.8,50.1],[116.4,50.7],[115.9,50.2],[115.3,51.6],[114.6,51.0],[114.0,50.6],[113.5,49.9],[112.8,49.1],[112.4,49.9],[111.9,51.5],[111.4,52.1],[110.8,51.2],[110.2,53.2],[109.7,52.0],[109.1,55.5],[108.5,56.0],[107.8,55.3],[107.1,52.0],[106.7,57.0],[106.2,54.0],[105.8,54.4],[105.4,53.8],[104.8,55.1],[104.3,57.4],[103.7,54.5],[103.3,52.1],[102.8,53.1],[102.0,52.3],[101.8,47.2],[101.1,48.2],[100.5,48.9],[100.0,49.6],[99.5,46.2],[99.0,49.6],[98.4,50.1],[97.9,49.9],[97.4,49.2],[96.8,50.5],[96.1,49.6],[95.4,50.4],[94.6,50.4],[94.0,50.6],[93.3,48.2],[92.8,51.3],[92.2,52.5],[91.6,52.2],[91.1,53.0],[90.5,55.0],[90.0,53.3],[89.5,50.3],[89.0,53.2],[88.4,51.7],[87.9,48.9],[87.4,52.2],[86.9,51.3],[86.3,54.6],[85.4,54.6],[85.1,56.6],[84.5,56.3],[83.8,56.6],[83.5,55.5],[83.1,57.3],[82.4,59.1],[81.6,57.5],[80.6,55.2],[80.1,55.2],[79.7,56.6],[79.2,54.9],[78.7,53.6],[78.1,55.1],[77.6,52.6],[77.1,53.7],[76.6,55.1],[75.9,52.2],[75.4,54.6],[74.9,53.4],[74.5,49.9],[73.9,53.0],[73.4,52.2],[72.8,53.0],[72.4,51.7],[72.0,53.3],[71.3,52.5],[70.4,53.3],[69.9,55.1],[69.5,52.8],[69.3,56.6],[68.9,53.1],[68.4,53.2],[67.8,54.3],[67.3,53.9],[66.7,54.3],[65.9,55.0],[65.0,54.6],[64.4,55.0],[63.7,53.5],[63.1,52.6],[62.5,53.9],[61.9,54.6],[61.4,55.3],[60.9,54.1],[60.3,57.0],[59.7,56.5],[59.2,58.9],[58.7,56.1],[58.3,59.1],[57.8,55.2],[57.2,53.9],[56.7,56.0],[55.8,55.3],[55.0,55.1],[54.3,52.5],[53.7,54.4],[53.0,55.6],[52.2,53.5],[51.7,51.1],[50.9,53.8],[50.2,50.8],[49.5,51.8],[49.1,53.7],[48.2,53.8],[47.6,55.0],[47.2,52.9],[46.8,'-'],[46.3,54.4],[45.7,55.1],[45.0,55.5],[44.4,53.9],[44.1,54.8],[43.6,52.7],[43.0,56.6],[42.5,52.6],[41.9,51.4],[41.5,53.2],[40.9,54.3],[40.5,55.6],[40.0,57.0],[39.7,52.0],[39.1,54.6],[38.6,54.4],[37.9,57.1],[37.5,54.1],[36.9,54.1],[36.4,55.8],[35.8,56.1],[35.1,54.5],[34.7,54.6],[34.1,52.3],[33.5,55.3],[32.7,54.2],[32.0,53.1],[31.3,53.9],[30.7,52.0],[30.2,53.2],[29.8,51.8],[29.1,51.9],[28.6,51.7],[28.0,52.1],[27.4,53.2],[26.9,51.8],[26.3,51.9],[26.1,54.6],[25.8,51.5],[25.2,52.7],[24.8,54.8],[24.4,52.3],[23.8,54.6],[23.3,54.8],[22.6,54.3],[22.0,51.0],[21.3,52.9],[20.7,50.8],[20.1,51.5],[19.5,48.7],[19.1,48.4],[18.6,51.0],[18.0,49.9],[17.3,50.7],[16.6,49.7],[16.1,49.9],[15.6,48.4],[14.9,50.3],[14.2,50.7],[13.7,49.4],[13.0,48.9],[12.3,49.6],[11.8,48.0],[11.2,48.7],[10.8,47.0],[10.2,47.9],[9.6,46.4],[9.1,47.9],[8.5,46.6],[8.0,47.0],[7.4,45.2],[7.0,44.6],[6.6,43.6],[6.2,43.2],[5.8,38.3],[5.4,34.5],[5.0,38.3]];

// shaded glacial sub-stages [older, younger] kyr
var greyBands = [[166.5,160.4],[149.4,143.5],[138.2,132.3],[121.5,109.6],[102.2,86.4],[80.0,64.9],[52.5,46.7],[30.6,26.5],[19.3,13.5]];
var redLineAges = [129.5, 115, 8.4];

var giSegs = [[168.9,129.5],[129.5,115],[115,9.5],[9.5,-0.2]];
var giNames = ['G', 'I', 'G', 'I'];
var giColors = ['#00ff66', '#2caf1e', '#00ff66', '#2caf1e'];
var giLabelAges = [147, 122.5, 57.5, 4];
var giRanges = ['', '130-115', '115-11.7', '11.7'];
var giRangeAges = [0, 121.2, 58.5, 2.7];

var misSegs = [[170.4,129.5],[129.5,68.5],[68.5,56.6],[56.6,29.2],[29.2,15.8],[15.8,0.3]];
var misNames = ['MIS6', 'MIS5', 'MIS4', 'MIS3', 'MIS2', 'MIS1'];
var misColors = ['#2b5cec', '#5aa9fb', '#4dc4ea', '#53d8d6', '#90ffff', '#c3dbd6'];

var techSegs = [[170.4,48.3],[48.3,-1.5]];
var techNames = ['MSA', 'LSA'];
var techColors = ['#dd00ff', '#ff3c00'];
var techLabelAges = [108.5, 26];

var kyrTicks = [150, 100, 50, 0];

// ---- layout ----
var X0 = 2325;           // pixel of 0 kyr
var PX = 11;             // pixels per kyr
var AGE_MAX = 172;
var SANS = '"Liberation Sans", Arial, sans-serif';
var NARROW = '"Liberation Sans Narrow", "DejaVu Sans Condensed", "Liberation Sans", sans-serif';
var WIDE = '"DejaVu Sans", sans-serif';

var grids = [];
var xAxes = [];
var yAxes = [];
var series = [];

function addGrid(top, height, yAxis, xOpt) {
  var i = grids.length;
  var minX = (xOpt && xOpt.min != null) ? xOpt.min : 0;
  grids.push({ left: X0 - AGE_MAX * PX, width: (AGE_MAX - minX) * PX, top: top, height: height });
  var xa = { gridIndex: i, type: 'value', min: minX, max: AGE_MAX, inverse: true, show: false };
  if (xOpt && xOpt.axis) xa = Object.assign(xa, xOpt.axis);
  xAxes.push(xa);
  yAxis.gridIndex = i;
  yAxes.push(yAxis);
  return i;
}

function hiddenY() { return { type: 'value', min: 0, max: 1, show: false }; }

function valueAxis(o) {
  return {
    type: 'value', min: o.min, max: o.max, interval: o.interval, inverse: !!o.inverse,
    position: o.pos, offset: o.offset,
    splitLine: { show: false },
    axisLine: { show: true, onZero: false, lineStyle: { color: '#000', width: 2 } },
    axisTick: { show: true, length: o.tick, lineStyle: { color: '#000', width: 2 }, customValues: o.tickValues },
    axisLabel: {
      show: true, margin: o.margin, color: '#000', fontSize: o.font, fontFamily: o.family || WIDE,
      align: o.align, rotate: o.rotate || 0, customValues: o.labelValues,
      formatter: o.formatter
    }
  };
}

function line(idx, data, color, width, z) {
  return {
    type: 'line', xAxisIndex: idx, yAxisIndex: idx, data: data, symbol: 'none', showSymbol: false,
    clip: false, silent: true, z: z || 3, connectNulls: false,
    lineStyle: { color: color, width: width, join: 'round' }
  };
}

// base grid: grey bands + kyr axis
var gBase = addGrid(166, 2087, hiddenY(), { axis: {
  show: true, position: 'bottom',
  axisLine: { show: true, onZero: false, lineStyle: { color: '#000', width: 3 } },
  axisTick: { show: true, length: 9, lineStyle: { color: '#000', width: 2 }, customValues: kyrTicks },
  axisLabel: { show: true, margin: 18, fontSize: 34, fontFamily: SANS, color: '#111', customValues: kyrTicks,
    formatter: function (v) { return kyrTicks.indexOf(v) >= 0 ? String(v) : ''; } },
  splitLine: { show: false }
}});

var gRsl = addGrid(120, 210, valueAxis({ min: -120, max: 0, interval: 20, pos: 'right', offset: 66, tick: 18, margin: 31, font: 35,
  align: 'left', labelValues: [0, -40, -80, -120],
  formatter: function (v) { return v % 40 === 0 ? String(v) : ''; } }));
var gSand = addGrid(372, 180, valueAxis({ min: 10, max: 50, interval: 10, pos: 'right', offset: 18, tick: 45, margin: 68, font: 35,
  align: 'left', tickValues: [10, 20, 30, 40] }));
var gSilt = addGrid(615, 191, valueAxis({ min: 40, max: 80, interval: 10, pos: 'left', offset: 25, tick: 40, margin: 45, font: 37 }));
var gClay = addGrid(770, 188, valueAxis({ min: 5, max: 25, interval: 5, pos: 'right', offset: 20, tick: 48, margin: 82, font: 37, align: 'left' }));
var gTc = addGrid(1021, 650, valueAxis({ min: 4, max: 9, interval: 1, pos: 'right', offset: 47, tick: 61, margin: 91, font: 32, align: 'left' }));
var gToc = addGrid(1248, 378, valueAxis({ min: 0.4, max: 1.4, interval: 0.2, pos: 'left', offset: 15, tick: 38, margin: 40, font: 38,
  family: NARROW, rotate: -90, labelValues: [0.6, 1.0, 1.4],
  formatter: function (v) { return [0.6, 1.0, 1.4].some(function (t) { return Math.abs(t - v) < 1e-6; }) ? v.toFixed(1) : ''; } }));
var gPca = addGrid(1642, 350, valueAxis({ min: -0.4, max: 0.6, interval: 0.2, pos: 'left', offset: 16, tick: 27, margin: 38, font: 38,
  family: NARROW, rotate: -90, formatter: function (v) { return v.toFixed(1); } }));
var gLight = addGrid(1770, 382, valueAxis({ min: 40, max: 55, interval: 5, inverse: true, pos: 'right', offset: 49, tick: 81, margin: 106, font: 38, align: 'left' }));
var gRed = addGrid(78, 2294, hiddenY());
var gGi = addGrid(2319, 49, hiddenY());
var gMis = addGrid(2408, 68, hiddenY());
var gTech = addGrid(2503, 21, hiddenY(), { min: -2 });

// grey bands
series.push({
  type: 'custom', xAxisIndex: gBase, yAxisIndex: gBase, silent: true, z: 1,
  data: greyBands.map(function (b) { return [b[0], b[1], 0, 1]; }),
  encode: { x: [0, 1], y: [2, 3] },
  renderItem: function (params, api) {
    var a = api.coord([api.value(0), 1]);
    var b = api.coord([api.value(1), 0]);
    return { type: 'rect', shape: { x: a[0], y: a[1], width: b[0] - a[0], height: b[1] - a[1] }, style: { fill: '#e5e5e5' } };
  }
});

// data curves
series.push(line(gRsl, rslTeal, '#2a97b6', 3));
series.push(line(gRsl, rslCyan, '#33e4ec', 3));
series.push(line(gRsl, rslBlue, '#1c3be0', 2.2));
series.push(line(gSand, sand, '#0b0ff0', 3));
series.push(line(gSilt, silt, '#ef1477', 3));
series.push(line(gClay, clay, '#f02a0c', 3));
series.push(line(gTc, tc, '#d500f7', 5));
series.push(line(gToc, toc, '#7a6f00', 3));
series.push(line(gLight, lightness, '#727272', 3, 3));
series.push(line(gPca, pcaRaw, '#f7a400', 2, 4));
series.push(line(gPca, pcaSmooth, '#000000', 4, 5));

// coloured bars with labels
function segmentSeries(gi, segs, colors, names, labelAges, fontSize, extra) {
  return {
    type: 'custom', xAxisIndex: gi, yAxisIndex: gi, silent: true, z: 2, clip: false,
    data: segs.map(function (s) { return [s[0], s[1], 0, 1]; }),
    encode: { x: [0, 1], y: [2, 3] },
    renderItem: function (params, api) {
      var i = params.dataIndex;
      var a = api.coord([api.value(0), 1]);
      var b = api.coord([api.value(1), 0]);
      var children = [{ type: 'rect', shape: { x: a[0], y: a[1], width: b[0] - a[0], height: b[1] - a[1] }, style: { fill: colors[i] } }];
      var lx = labelAges ? api.coord([labelAges[i], 0])[0] : (a[0] + b[0]) / 2;
      children.push({ type: 'text', x: lx, y: (a[1] + b[1]) / 2,
        style: { text: names[i], fill: '#222', font: fontSize + 'px ' + SANS, align: 'center', verticalAlign: 'middle', textAlign: 'center', textVerticalAlign: 'middle' } });
      if (extra) extra(children, i, api, a, b);
      return { type: 'group', children: children };
    }
  };
}

series.push(segmentSeries(gGi, giSegs, giColors, giNames, giLabelAges, 30, function (children, i, api, a, b) {
  if (!giRanges[i]) return;
  children.push({ type: 'text', x: api.coord([giRangeAges[i], 0])[0], y: b[1] + 14,
    style: { text: giRanges[i], fill: '#222', font: '28px ' + SANS, align: 'center', verticalAlign: 'middle', textAlign: 'center', textVerticalAlign: 'middle' } });
}));
series.push(segmentSeries(gMis, misSegs, misColors, misNames, null, 31));

series.push({
  type: 'custom', xAxisIndex: gTech, yAxisIndex: gTech, silent: true, z: 2, clip: false,
  data: techSegs.map(function (s, i) { return [s[0], s[1], i === 0 ? 0.5 : 0, i === 0 ? 1 : 0.5]; }),
  encode: { x: [0, 1], y: [2, 3] },
  renderItem: function (params, api) {
    var i = params.dataIndex;
    var a = api.coord([api.value(0), api.value(3)]);
    var b = api.coord([api.value(1), api.value(2)]);
    var lx = api.coord([techLabelAges[i], 0])[0];
    return { type: 'group', children: [
      { type: 'rect', shape: { x: a[0], y: a[1], width: b[0] - a[0], height: b[1] - a[1] }, style: { fill: techColors[i] } },
      { type: 'text', x: lx, y: b[1] + (i === 0 ? 24 : 34),
        style: { text: techNames[i], fill: '#222', font: '30px ' + SANS, align: 'center', verticalAlign: 'middle', textAlign: 'center', textVerticalAlign: 'middle' } }
    ]};
  }
});

// red boundary lines
series.push({
  type: 'custom', xAxisIndex: gRed, yAxisIndex: gRed, silent: true, z: 20, clip: false,
  data: redLineAges.map(function (a) { return [a, 0]; }),
  encode: { x: 0, y: 1 },
  renderItem: function (params, api) {
    var t = api.coord([api.value(0), 1]);
    var b = api.coord([api.value(0), 0]);
    return { type: 'line', shape: { x1: t[0], y1: t[1], x2: b[0], y2: b[1] }, style: { stroke: '#ff1a00', lineWidth: 7, lineCap: 'round' } };
  }
});

function txt(text, x, y, font, align, extra) {
  var el = { type: 'text', x: x, y: y, z: 30, silent: true,
    style: { text: text, font: font, fill: '#000', align: align || 'left', verticalAlign: 'middle', textAlign: align || 'left', textVerticalAlign: 'middle' } };
  return Object.assign(el, extra || {});
}

var TITLE = 'bold 76px ' + SANS;
var graphics = [
  txt('RSL', 113, 200, TITLE, 'center'),
  txt('(m)', 113, 271, TITLE, 'center'),
  txt('Sand %', 14, 491, TITLE),
  txt('Silt %', 14, 714, TITLE),
  txt('Clay %', 14, 893, TITLE),
  txt('TC %', 71, 1084, TITLE),
  txt('TOC %', 32, 1397, TITLE),
  txt('PCA1', 23, 1786, TITLE),
  txt('Terrestrial input', 23, 1680, '31px ' + WIDE),
  txt('Calcium carbonate', 23, 1930, '31px ' + WIDE),
  txt('precipitation', 23, 1961, '31px ' + WIDE),
  txt('Glacial', 660, 102, 'bold 74px ' + SANS, 'center'),
  txt('Glacial', 1610, 102, 'bold 74px ' + SANS, 'center'),
  txt('Interglacial', 970, 55, 'bold 26px ' + SANS, 'center'),
  txt('Interglacial', 2328, 55, 'bold 26px ' + SANS, 'center'),
  txt('kyr', 1395, 2290, '34px ' + SANS, 'center'),
  txt('Dark layers', 2713, 1945, '62px ' + SANS, 'center', { rotation: Math.PI / 2 }),
  txt('L*', 2619, 2160, 'bold 62px ' + SANS, 'center'),
  // double arrow (terrestrial input / carbonate)
  { type: 'polygon', z: 30, silent: true, shape: { points: [[294,1689],[313,1723],[299,1723],[299,1885],[313,1885],[294,1919],[275,1885],[289,1885],[289,1723],[275,1723]] }, style: { fill: '#000' } },
  // dark layers arrow
  { type: 'polygon', z: 30, silent: true, shape: { points: [[2606,1844],[2626,1878],[2612,1878],[2612,2068],[2600,2068],[2600,1878],[2586,1878]] }, style: { fill: '#000' } },
  { type: 'circle', z: 30, silent: true, shape: { cx: 2606, cy: 2068, r: 6 }, style: { fill: '#000' } }
];

var chart = echarts.init(document.getElementById('chart'), null, { renderer: 'canvas' });
chart.setOption({
  animation: false,
  backgroundColor: '#ffffff',
  grid: grids,
  xAxis: xAxes,
  yAxis: yAxes,
  series: series,
  graphic: graphics
});
</script>
</body>
</html>
